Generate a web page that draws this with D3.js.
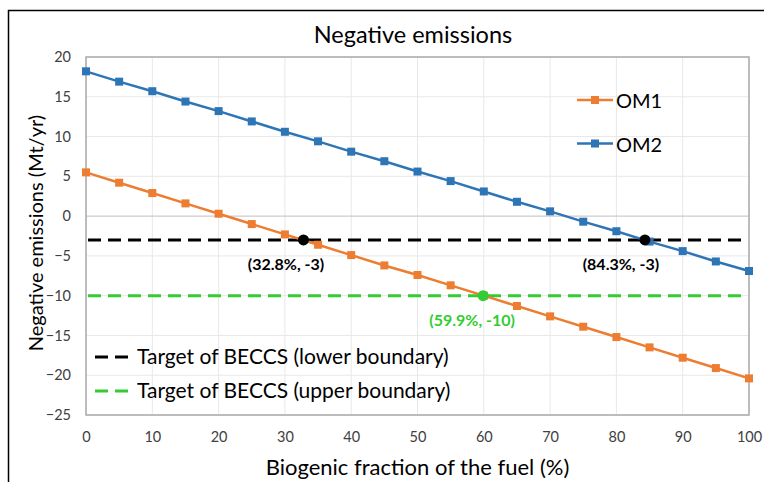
<!DOCTYPE html>
<html>
<head>
<meta charset="utf-8">
<script src="https://cdn.jsdelivr.net/npm/d3@7"></script>
<style>
  html, body { margin: 0; padding: 0; background: #fff; }
  svg { display: block; font-family: Lato, "Open Sans", sans-serif; }
</style>
</head>
<body>
<svg id="chart" width="764" height="482"></svg>
<script>
// Biogenic fraction of the fuel (%)
const fractions = [0, 5, 10, 15, 20, 25, 30, 35, 40, 45, 50, 55, 60, 65, 70, 75, 80, 85, 90, 95, 100];
// Negative emissions (Mt/yr) per operating mode
const om1 = [5.5, 4.2, 2.9, 1.6, 0.3, -1.0, -2.3, -3.6, -4.9, -6.2, -7.4, -8.7, -10.0, -11.3, -12.6, -13.9, -15.2, -16.5, -17.8, -19.1, -20.4];
const om2 = [18.2, 16.9, 15.7, 14.4, 13.2, 11.9, 10.6, 9.4, 8.1, 6.9, 5.6, 4.4, 3.1, 1.8, 0.6, -0.7, -1.9, -3.2, -4.4, -5.7, -6.9];
const seriesNames = ["OM1", "OM2"];
// BECCS targets
const targetNames = ["Target of BECCS (lower boundary)", "Target of BECCS (upper boundary)"];
const targetValues = [-3, -10];
// Intersection points with the targets
const crossX = [32.8, 84.3, 59.9];
const crossY = [-3, -3, -10];
const crossLabels = ["(32.8%, -3)", "(84.3%, -3)", "(59.9%, -10)"];
const xTicks = [0, 10, 20, 30, 40, 50, 60, 70, 80, 90, 100];
const yTicks = [-25, -20, -15, -10, -5, 0, 5, 10, 15, 20];

const colors = { om1: "#ED7D31", om2: "#2E75B6", lower: "#000000", upper: "#33CC33" };

const svg = d3.select("#chart");
const plot = { left: 86, right: 749, top: 57, bottom: 415 };

const x = d3.scaleLinear().domain([0, 100]).range([plot.left, plot.right]);
const y = d3.scaleLinear().domain([-25, 20]).range([plot.bottom, plot.top]);

// Outer frame
svg.append("path")
  .attr("d", "M8.5,482 V10.5 H764")
  .attr("fill", "none").attr("stroke", "#000").attr("stroke-width", 1.5);

// Title
svg.append("text")
  .attr("x", 413).attr("y", 43)
  .attr("text-anchor", "middle")
  .attr("font-size", 23.5).attr("fill", "#000")
  .text("Negative emissions");

// Gridlines
const grid = svg.append("g");
grid.selectAll("line.v").data(xTicks).join("line")
  .attr("x1", d => x(d)).attr("x2", d => x(d))
  .attr("y1", plot.top).attr("y2", plot.bottom)
  .attr("stroke", "#E8E8E8").attr("stroke-width", 1);
grid.selectAll("line.h").data(yTicks).join("line")
  .attr("x1", plot.left).attr("x2", plot.right)
  .attr("y1", d => y(d)).attr("y2", d => y(d))
  .attr("stroke", d => d === 0 ? "#BFBFBF" : "#E8E8E8").attr("stroke-width", 1);

// Plot border
svg.append("rect")
  .attr("x", plot.left).attr("y", plot.top)
  .attr("width", plot.right - plot.left).attr("height", plot.bottom - plot.top)
  .attr("fill", "none").attr("stroke", "#ABABAB").attr("stroke-width", 1.5);

// Axes (labels only)
const xAxis = svg.append("g")
  .attr("transform", `translate(0,${plot.bottom})`)
  .call(d3.axisBottom(x).tickValues(xTicks).tickSize(0).tickPadding(17));
const yAxis = svg.append("g")
  .attr("transform", `translate(${plot.left},0)`)
  .call(d3.axisLeft(y).tickValues(yTicks).tickSize(0).tickPadding(15));
[xAxis, yAxis].forEach(g => {
  g.select(".domain").remove();
  g.selectAll("text").attr("font-size", 14.5).attr("fill", "#404040")
    .attr("font-family", "Lato, 'Open Sans', sans-serif");
});

// Axis titles
svg.append("text")
  .attr("x", x(50)).attr("y", 475)
  .attr("text-anchor", "middle").attr("font-size", 22).attr("fill", "#000")
  .text("Biogenic fraction of the fuel (%)");
svg.append("text")
  .attr("transform", "translate(43,233) rotate(-90)")
  .attr("text-anchor", "middle").attr("font-size", 20).attr("fill", "#000")
  .text("Negative emissions (Mt/yr)");

// Target lines
const targetColors = [colors.lower, colors.upper];
svg.append("g").selectAll("line").data(targetValues).join("line")
  .attr("x1", x(0) + 2).attr("x2", x(100) - 2)
  .attr("y1", d => y(d)).attr("y2", d => y(d))
  .attr("stroke", (d, i) => targetColors[i])
  .attr("stroke-width", 3).attr("stroke-dasharray", "13,7");

// Series
const line = d3.line().x(d => x(d[0])).y(d => y(d[1]));
const series = [
  { values: om1, color: colors.om1 },
  { values: om2, color: colors.om2 }
];
series.forEach(s => {
  const pts = fractions.map((f, i) => [f, s.values[i]]);
  svg.append("path").datum(pts)
    .attr("d", line).attr("fill", "none")
    .attr("stroke", s.color).attr("stroke-width", 2.5);
  svg.append("g").selectAll("rect").data(pts).join("rect")
    .attr("x", d => x(d[0]) - 4).attr("y", d => y(d[1]) - 4)
    .attr("width", 8).attr("height", 8)
    .attr("fill", s.color);
});

// Intersection points and labels
const crossColors = [colors.lower, colors.lower, colors.upper];
const labelColors = ["#000", "#000", "#33CC33"];
svg.append("g").selectAll("circle").data(crossX).join("circle")
  .attr("cx", d => x(d)).attr("cy", (d, i) => y(crossY[i]))
  .attr("r", 5.5).attr("fill", (d, i) => crossColors[i]);
const labelDx = [-17.5, -24, -11];
svg.append("g").selectAll("text").data(crossLabels).join("text")
  .attr("x", (d, i) => x(crossX[i]) + labelDx[i])
  .attr("y", (d, i) => y(crossY[i]) + 30.5)
  .attr("text-anchor", "middle")
  .attr("font-size", 16).attr("font-weight", "bold")
  .attr("fill", (d, i) => labelColors[i])
  .text(d => d);

// Legend: series
const legSeries = svg.append("g");
seriesNames.forEach((name, i) => {
  const ly = 100 + i * 43.5;
  const c = series[i].color;
  legSeries.append("line")
    .attr("x1", 577).attr("x2", 613).attr("y1", ly).attr("y2", ly)
    .attr("stroke", c).attr("stroke-width", 2.5);
  legSeries.append("rect")
    .attr("x", 595 - 4).attr("y", ly - 4).attr("width", 8).attr("height", 8)
    .attr("fill", c);
  legSeries.append("text")
    .attr("x", 616).attr("y", ly + 8)
    .attr("font-size", 20).attr("fill", "#000")
    .text(name);
});

// Legend: targets
const legTargets = svg.append("g");
targetNames.forEach((name, i) => {
  const ly = 357 + i * 34;
  legTargets.append("line")
    .attr("x1", 95).attr("x2", 133).attr("y1", ly).attr("y2", ly)
    .attr("stroke", targetColors[i]).attr("stroke-width", 3)
    .attr("stroke-dasharray", "13,7");
  legTargets.append("text")
    .attr("x", 137).attr("y", ly + 7)
    .attr("font-size", 21).attr("fill", "#000")
    .text(name);
});
</script>
</body>
</html>
